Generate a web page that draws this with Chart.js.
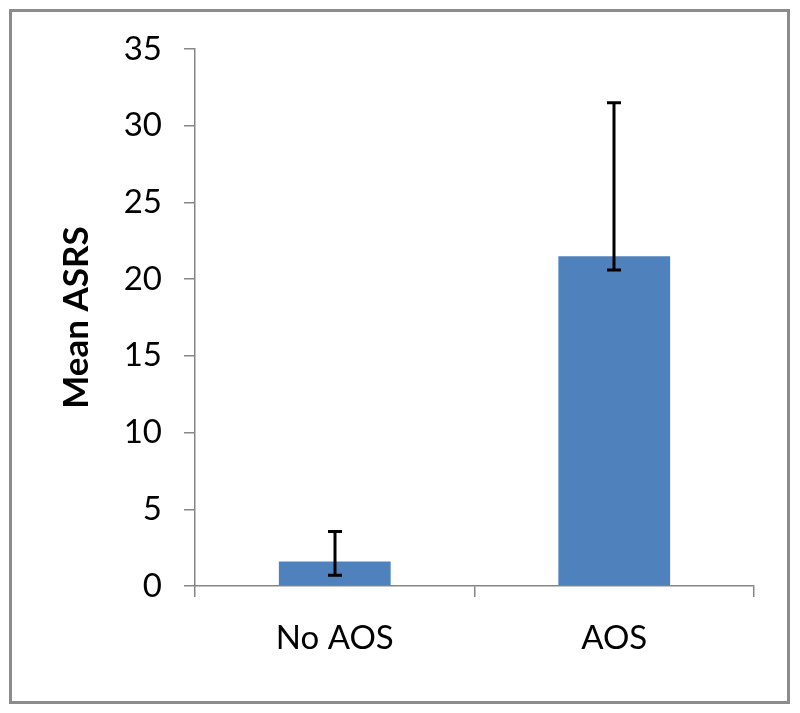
<!DOCTYPE html>
<html>
<head>
<meta charset="utf-8">
<script src="https://cdn.jsdelivr.net/npm/chart.js@4/dist/chart.umd.min.js"></script>
<style>
  html, body { margin: 0; padding: 0; background: #fff; }
  #wrap { width: 800px; height: 713px; position: relative; }
</style>
</head>
<body>
<div id="wrap"><canvas id="grafico" width="800" height="713"></canvas></div>
<script>
var categorias = ['No AOS', 'AOS'];
var mediaASRS = [1.6, 21.5];
var erroInferior = [0.7, 20.6];
var erroSuperior = [3.55, 31.5];
var ticksY = [0, 5, 10, 15, 20, 25, 30, 35];

// moldura cinza em volta do grafico
var moldura = {
    id: 'moldura',
    beforeDraw: function (chart) {
        var ctx = chart.ctx;
        ctx.save();
        ctx.fillStyle = '#fff';
        ctx.fillRect(0, 0, chart.width, chart.height);
        ctx.strokeStyle = '#8c8c8c';
        ctx.lineWidth = 3;
        ctx.strokeRect(10.5, 10.5, 778, 692);
        ctx.restore();
    }
};

// barras de erro (assimetricas)
var barrasErro = {
    id: 'barrasErro',
    afterDatasetsDraw: function (chart) {
        var ctx = chart.ctx,
            meta = chart.getDatasetMeta(0),
            y = chart.scales.y;
        ctx.save();
        ctx.strokeStyle = '#000';
        ctx.lineWidth = 3;
        meta.data.forEach(function (bar, i) {
            var x = Math.round(bar.x),
                yTop = y.getPixelForValue(erroSuperior[i]),
                yBot = y.getPixelForValue(erroInferior[i]);
            ctx.beginPath();
            ctx.moveTo(x, yTop);
            ctx.lineTo(x, yBot);
            ctx.moveTo(x - 7, yTop);
            ctx.lineTo(x + 7, yTop);
            ctx.moveTo(x - 7, yBot);
            ctx.lineTo(x + 7, yBot);
            ctx.stroke();
        });
        ctx.restore();
    }
};

var ctx = document.getElementById('grafico').getContext('2d');

new Chart(ctx, {
    type: 'bar',
    data: {
        labels: categorias,
        datasets: [{
            data: mediaASRS,
            backgroundColor: '#4f81bd',
            borderWidth: 0,
            categoryPercentage: 0.8,
            barPercentage: 0.5
        }]
    },
    options: {
        responsive: false,
        animation: false,
        layout: { padding: { left: 49, right: 46, top: 49, bottom: 20 } },
        plugins: { legend: { display: false }, tooltip: { enabled: false } },
        scales: {
            x: {
                grid: { offset: true, drawOnChartArea: false, drawTicks: true, tickLength: 11, color: '#868686', lineWidth: 1.5 },
                border: { color: '#868686', width: 1.5 },
                ticks: { color: '#000', padding: 22, font: { family: 'Lato', size: 33 } },
                afterFit: function (scale) { scale.height = 107; }
            },
            y: {
                min: 0,
                max: 35,
                afterBuildTicks: function (scale) {
                    scale.ticks = ticksY.map(function (v) { return { value: v }; });
                },
                grid: { drawOnChartArea: false, drawTicks: true, tickLength: 11, color: '#868686', lineWidth: 1.5 },
                border: { color: '#868686', width: 1.5 },
                ticks: { color: '#000', padding: 22, font: { family: 'Lato', size: 33 } },
                title: {
                    display: true,
                    text: 'Mean ASRS',
                    color: '#000',
                    padding: { top: 7, bottom: 0 },
                    font: { family: 'Lato', size: 35, weight: 'bold' }
                },
                afterFit: function (scale) { scale.width = 146; }
            }
        }
    },
    plugins: [moldura, barrasErro]
});
</script>
</body>
</html>
